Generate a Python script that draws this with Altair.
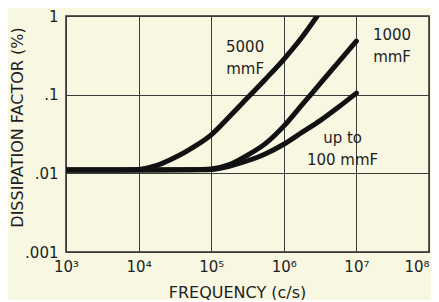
import altair as alt
import pandas as pd

# --- data ---
freq_5000 = [1e3, 3162, 1e4, 17783, 31623, 56234, 1e5, 177828, 316228, 562341, 1e6, 1778279, 2884032]
df_5000 = [0.01102, 0.01102, 0.01122, 0.01259, 0.01585, 0.02138, 0.0309, 0.0525, 0.0912, 0.1585, 0.2818, 0.537, 1.0]

freq_1000 = [1e3, 1e4, 56234, 1e5, 177828, 316228, 562341, 1e6, 1778279, 3162278, 5623413, 1e7]
df_1000 = [0.01102, 0.01102, 0.01109, 0.01135, 0.01288, 0.01698, 0.0240, 0.0398, 0.0741, 0.138, 0.257, 0.479]

freq_100 = [1e3, 1e4, 56234, 1e5, 177828, 316228, 562341, 1e6, 1778279, 3162278, 5623413, 1e7]
df_100 = [0.01102, 0.01102, 0.01109, 0.01122, 0.0123, 0.01445, 0.01778, 0.02344, 0.0331, 0.0468, 0.0692, 0.1047]

series_names = ["5000 mmF", "1000 mmF", "up to 100 mmF"]

label_texts = ["5000\nmmF", "1000\nmmF", "up to\n100 mmF"]
label_freq = [2.93e5, 3.1e7, 6.45e6]
label_df = [0.352, 0.495, 0.0243]

x_ticks = [1e3, 1e4, 1e5, 1e6, 1e7, 1e8]
x_tick_labels = ["10³", "10⁴", "10⁵", "10⁶", "10⁷", "10⁸"]
y_ticks = [0.001, 0.01, 0.1, 1]
y_tick_labels = [".001", ".01", ".1", "1"]

rows = []
for name, fs, vs in zip(series_names, [freq_5000, freq_1000, freq_100], [df_5000, df_1000, df_100]):
    for i, (f, v) in enumerate(zip(fs, vs)):
        rows.append({"series": name, "f": f, "d": v, "order": i})
lines_df = pd.DataFrame(rows)
labels_df = pd.DataFrame({"text": label_texts, "f": label_freq, "d": label_df})

FONT = "DejaVu Sans"
INK = "#1e1e1e"

x_label_expr = "[" + ",".join("'%s'" % t for t in x_tick_labels) + "][round(log(datum.value)/LN10) - 3]"
y_label_expr = "[" + ",".join("'%s'" % t for t in y_tick_labels) + "][round(log(datum.value)/LN10) + 3]"

x_enc = alt.X(
    "f:Q",
    scale=alt.Scale(type="log", domain=[1e3, 1e8], nice=False),
    axis=alt.Axis(
        values=x_ticks, labelExpr=x_label_expr, title="FREQUENCY (c/s)",
        grid=True, gridColor="#3a3a3a", gridWidth=1, ticks=False, tickSize=0,
        domain=False, labelPadding=7, labelFontSize=15, labelColor=INK,
        labelFont=FONT, titleFont=FONT, titleFontSize=16, titleFontWeight="normal",
        titleColor=INK, titleX=171, titleY=45, titleBaseline="alphabetic",
        labelFlush=False,
        labelAlign={"condition": {"test": "datum.value >= 1e8", "value": "right"}, "value": "center"},
    ),
)
y_enc = alt.Y(
    "d:Q",
    scale=alt.Scale(type="log", domain=[0.001, 1], nice=False),
    axis=alt.Axis(
        values=y_ticks, labelExpr=y_label_expr, title="DISSIPATION FACTOR (%)",
        grid=True, gridColor="#3a3a3a", gridWidth=1, ticks=False, tickSize=0,
        domain=False, labelPadding=8, labelFontSize=15, labelColor=INK,
        labelFont=FONT, titleFont=FONT, titleFontSize=16, titleFontWeight="normal",
        titleColor=INK, titleX=-41, titleY=111, labelFlush=False,
    ),
)

lines = alt.Chart(lines_df).mark_line(
    color="#111111", strokeWidth=5, interpolate="monotone", clip=True, strokeCap="round"
).encode(x=x_enc, y=y_enc, detail="series:N", order="order:Q")

texts = alt.Chart(labels_df).mark_text(
    font=FONT, fontSize=15, color=INK, align="center", baseline="alphabetic",
    lineBreak="\n", lineHeight=22,
).encode(x="f:Q", y="d:Q", text="text:N")

chart = (
    alt.layer(lines, texts)
    .properties(
        width=363, height=236,
        autosize=alt.AutoSizeParams(type="none"),
        padding={"left": 58, "top": 8, "right": 2, "bottom": 48},
        background="#f8f7e2",
    )
    .configure_view(stroke="#2a2a2a", strokeWidth=1.5, fill="#f8f7e2")
)

chart.save("out.html", embed_options={"renderer": "svg", "actions": False})
